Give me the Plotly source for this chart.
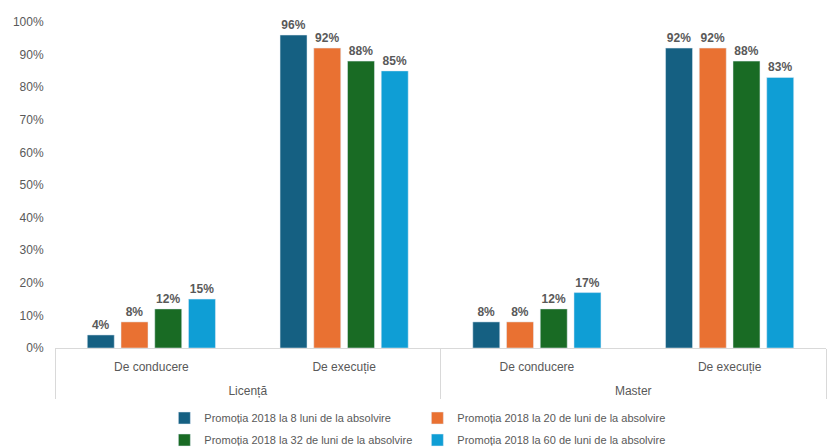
import plotly.graph_objects as go

levels = ["Licență", "Licență", "Master", "Master"]
roles = ["De conducere", "De execuție", "De conducere", "De execuție"]
series_names = [
    "Promoția 2018 la 8 luni de la absolvire",
    "Promoția 2018 la 20 de luni de la absolvire",
    "Promoția 2018 la 32 de luni de la absolvire",
    "Promoția 2018 la 60 de luni de la absolvire",
]
s8 = [0.04, 0.96, 0.08, 0.92]
s20 = [0.08, 0.92, 0.08, 0.92]
s32 = [0.12, 0.88, 0.12, 0.88]
s60 = [0.15, 0.85, 0.17, 0.83]
colors = ["#156082", "#E97132", "#196B24", "#0F9ED5"]
legend_ids = ["legend", "legend", "legend2", "legend2"]

# outer labels pushed down one line to mimic the spacing of the original
outer = ["<br>" + lv for lv in levels]

base = "Liberation Sans, Arial, sans-serif"
fig = go.Figure()
for name, vals, col, lg in zip(series_names, [s8, s20, s32, s60], colors, legend_ids):
    fig.add_trace(go.Bar(
        x=[outer, roles], y=vals, name=name, legend=lg,
        marker=dict(color=col),
        texttemplate="%{y:.0%}", textposition="outside",
        textfont=dict(family=base, size=12, color="#595959", weight="bold"),
        cliponaxis=False,
    ))

legend_common = dict(orientation="h", x=0.47, xanchor="center", yanchor="middle",
                     yref="container", entrywidth=208, itemwidth=30,
                     font=dict(family=base, size=11, color="#595959"),
                     traceorder="normal", bgcolor="rgba(0,0,0,0)")

fig.update_layout(
    width=827, height=448,
    margin=dict(l=55, r=1, t=22, b=100, autoexpand=False),
    paper_bgcolor="white", plot_bgcolor="white",
    barmode="group", bargap=0.3, bargroupgap=0.2,
    font=dict(family=base, color="#595959", size=12),
    showlegend=True,
    legend=dict(legend_common, y=1 - 418 / 448),
    legend2=dict(legend_common, y=1 - 440 / 448),
    yaxis=dict(range=[0, 1], dtick=0.1, tickformat=".0%", showgrid=False, zeroline=False,
               showline=False, ticks="outside", ticklen=8, tickcolor="rgba(0,0,0,0)",
               tickfont=dict(size=12, color="#595959")),
    xaxis=dict(type="multicategory", showline=True, linecolor="#D9D9D9", linewidth=1,
               showdividers=True, dividercolor="#D9D9D9", dividerwidth=1,
               ticklabelstandoff=8,
               tickfont=dict(family=base, size=12, color="#595959"), showgrid=False),
)

fig.write_html("out.html", config={"displayModeBar": False},
               post_script="document.body.style.margin='0';")
